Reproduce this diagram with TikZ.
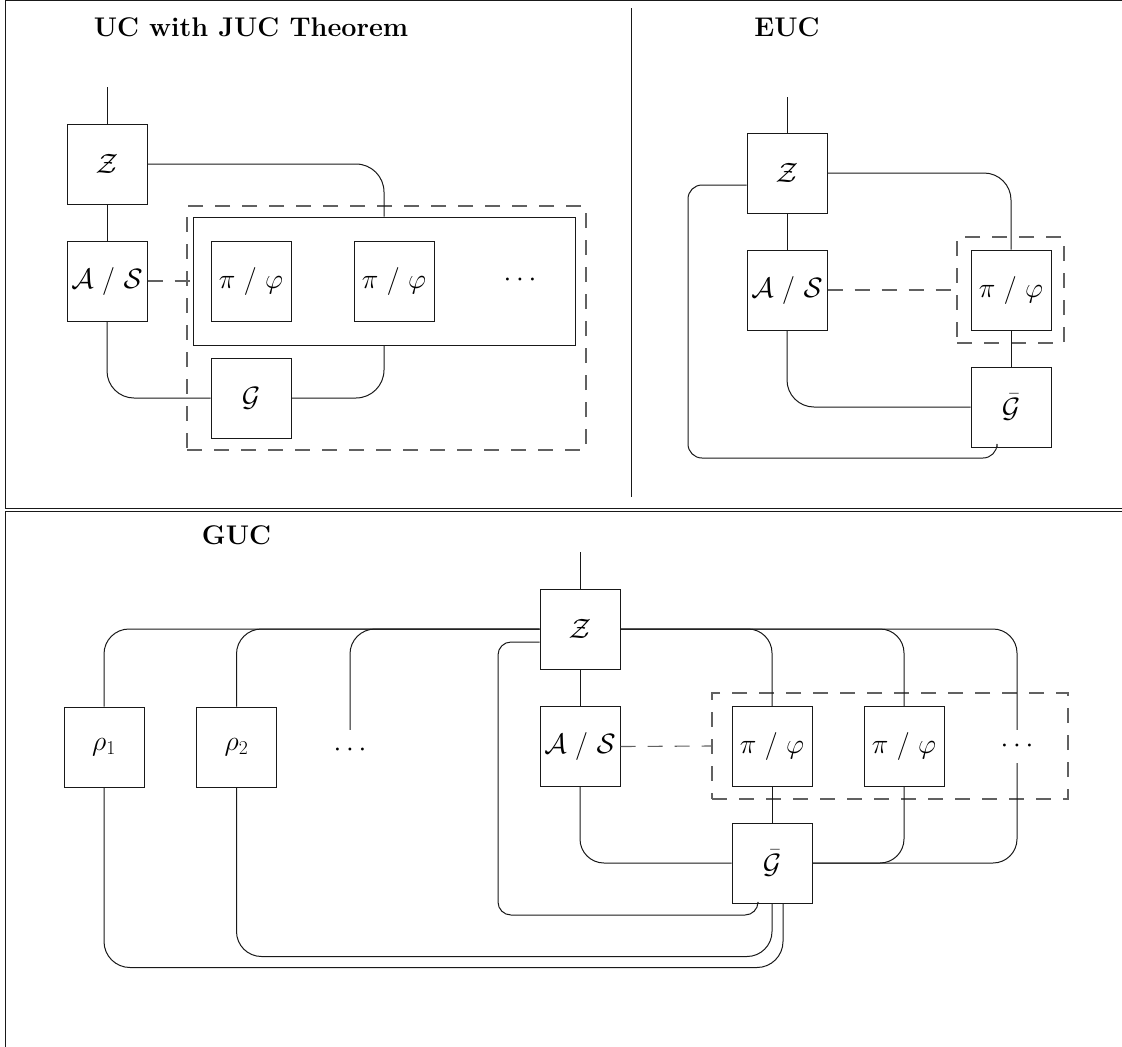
\RequirePackage{fix-cm}
\documentclass[tikz,border=0pt]{standalone}
\newcommand\lblfnt{\fontsize{28}{33}\selectfont}
\newcommand\ttlfnt{\fontsize{27}{32}\selectfont}
\begin{document}
\begin{tikzpicture}[x=1pt,y=-1pt,
  ln/.style={draw=black!90, line width=1pt},
  box/.style={ln, minimum width=80pt, minimum height=80pt, inner sep=0pt, font=\lblfnt},
  dbox/.style={draw=black!62, line width=1.1pt, dash pattern=on 15pt off 12pt, inner sep=0pt},
  dline/.style={draw=black!62, line width=1.1pt, dash pattern=on 15pt off 12pt},
  wire/.style={ln, rounded corners=#1}, wire/.default=25pt,
  ttl/.style={font=\ttlfnt\bfseries, inner sep=0pt},
  dotsn/.style={inner sep=0pt, font=\lblfnt}]

\useasboundingbox (0,0) rectangle (1122,1047);
\begin{scope}
  \clip (0,0) rectangle (1122,1047);
  \draw[ln] (5.5,0.8) rectangle (1135,508);
  \draw[ln] (5.5,511.5) rectangle (1135,1060);
\end{scope}
\draw[ln] (631,8) -- (631,497);

% ---------------- UC with JUC Theorem ----------------
\node[ttl] (tUC) at (251,27) {UC with JUC Theorem};
\node[box] (zL) at (107,164) {$\mathcal{Z}$};
\node[box] (asL) at (107,281) {$\mathcal{A}$ / $\mathcal{S}$};
\node[ln, minimum width=382pt, minimum height=128pt, inner sep=0pt] (inL) at (384,281) {};
\node[dbox, minimum width=399pt, minimum height=244pt] (dL) at (386.5,328) {};
\node[box] (pL1) at (251,281) {$\pi$ / $\varphi$};
\node[box] (pL2) at (394,281) {$\pi$ / $\varphi$};
\node[dotsn] (dotsL) at (520,280) {$\cdots$};
\node[box] (gL) at (251,398) {$\mathcal{G}$};
\coordinate (topL) at (107,87);
\draw[ln] (topL) -- (zL.north);
\draw[ln] (zL) -- (asL);
\draw[wire=28pt] (zL.east) -| (inL.north);
\draw[wire=27pt] (asL.south) |- (gL.west);
\draw[wire=28pt] (gL.east) -| (inL.south);
\draw[dline] (asL.east) -- (inL.west);

% ---------------- EUC ----------------
\node[ttl] (tEUC) at (787,27) {EUC};
\node[box] (zR) at (787,173) {$\mathcal{Z}$};
\node[box] (asR) at (787,290) {$\mathcal{A}$ / $\mathcal{S}$};
\node[box] (pR) at (1011,290) {$\pi$ / $\varphi$};
\node[dbox, minimum width=107pt, minimum height=106pt] (dR) at (1010.5,290) {};
\node[box] (gR) at (1011,407) {$\bar{\mathcal{G}}$};
\coordinate (topR) at (787,97);
\draw[ln] (topR) -- (zR.north);
\draw[ln] (zR) -- (asR);
\draw[wire=27pt] (zR.east) -| (pR.north);
\draw[ln] (pR) -- (gR);
\draw[wire=27pt] (asR.south) |- (gR.west);
\draw[dline] (asR.east) -- (dR.west);
\draw[wire=14pt] ([yshift=-12pt]zR.west) -| (688,458) -| ([xshift=-14pt]gR.south);

% ---------------- GUC ----------------
\node[ttl] (tGUC) at (236.5,535) {GUC};
\node[box] (rho1) at (104,747) {$\rho_1$};
\node[box] (rho2) at (236.5,747) {$\rho_2$};
\node[dotsn, minimum height=40pt] (dotsR) at (350,750) {$\cdots$};
\node[box] (zB) at (580,629) {$\mathcal{Z}$};
\node[box] (asB) at (580,746.5) {$\mathcal{A}$ / $\mathcal{S}$};
\node[box] (pB1) at (772,746.5) {$\pi$ / $\varphi$};
\node[box] (pB2) at (904,746.5) {$\pi$ / $\varphi$};
\node[dotsn, minimum height=33pt] (dotsB) at (1017,746.5) {$\cdots$};
\node[dbox, minimum width=356pt, minimum height=106pt] (dB) at (890,746) {};
\node[box] (gB) at (772,863) {$\bar{\mathcal{G}}$};
\coordinate (topB) at (580,552);
\draw[ln] (topB) -- (zB.north);
\draw[ln] (zB) -- (asB);
\draw[wire=24pt] (zB.east) -| (pB1.north);
\draw[wire=24pt] (zB.east) -| (pB2.north);
\draw[wire=24pt] (zB.east) -| (dotsB.north);
\draw[ln] (pB1) -- (gB);
\draw[wire=24pt] (gB.east) -| (pB2.south);
\draw[wire=24pt] (gB.east) -| (dotsB.south);
\draw[wire=24pt] (asB.south) |- (gB.west);
\draw[dline] (asB.east) -- (dB.west);
\draw[wire=25pt] (rho1.north) |- (zB.west);
\draw[wire=25pt] (rho2.north) |- (zB.west);
\draw[wire=25pt] (dotsR.north) |- (zB.west);
\draw[wire=13pt] ([yshift=-13pt]zB.west) -| (498,915) -| ([xshift=-14pt]gB.south);
\draw[wire=25pt] (rho2.south) -- ++(0,169) -| (gB.south);
\draw[wire=26pt] (rho1.south) -- ++(0,180) -| ([xshift=11pt]gB.south);
\end{tikzpicture}
\end{document}
